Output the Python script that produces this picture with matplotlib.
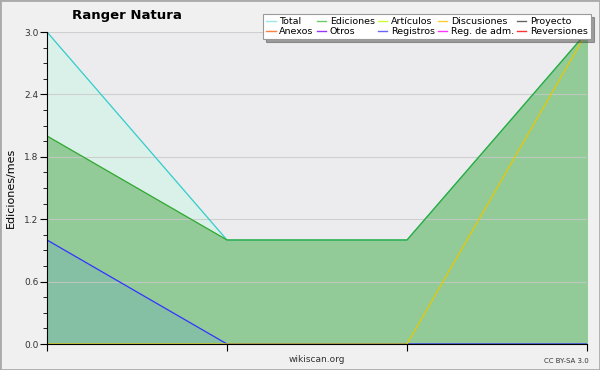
import matplotlib.pyplot as plt
from matplotlib.lines import Line2D
from matplotlib.patches import Rectangle

# monthly edits
months = [0, 1, 2, 3]
total = [3, 1, 1, 3]
ediciones = [2, 1, 1, 3]
registros = [1, 0, 0, 0]
discusiones = [0, 0, 0, 3]

legend_names = ['Total', 'Ediciones', 'Artículos', 'Discusiones', 'Proyecto',
                'Anexos', 'Otros', 'Registros', 'Reg. de adm.', 'Reversiones']
legend_colors = ['#99e6e6', '#66cc66', '#ccff33', '#ffcc33', '#666666',
                 '#ff7f3f', '#9933ff', '#6666ff', '#ff33ff', '#ff3333']

fig = plt.figure(figsize=(6, 3.7), dpi=100, facecolor='#f0f0f0')
fig.patches.append(Rectangle((0, 0), 1, 1, transform=fig.transFigure,
                             fill=False, edgecolor='#aaaaaa', lw=2))
ax = fig.add_axes([47 / 600, 26 / 370, 540 / 600, 312 / 370])
ax.set_facecolor('#ececee')

ax.fill_between(months, total, color='#daf1e9')
ax.plot(months, total, color='#33cccc', lw=0.9)
ax.fill_between(months, ediciones, color='#93cb98')
ax.plot(months, ediciones, color='#33aa33', lw=0.9)
ax.fill_between(months, registros, color='#86c0a4')
ax.plot(months, registros, color='#3333ff', lw=0.9)
ax.plot(months, discusiones, color='#e6c800', lw=0.9)

ax.set_xlim(0, 3)
ax.set_ylim(0, 3)
ax.set_xticks(months)
ax.set_xticklabels([])
ax.set_yticks([0, 0.6, 1.2, 1.8, 2.4, 3.0])
ax.set_yticklabels(['0.0', '0.6', '1.2', '1.8', '2.4', '3.0'], fontsize=6.5, color='#333333')
ax.set_yticks([i * 0.15 for i in range(21)], minor=True)
ax.tick_params(axis='y', which='major', length=5, pad=1)
ax.tick_params(axis='y', which='minor', length=3)
ax.tick_params(axis='x', length=5)
ax.grid(axis='y', color='#c8c8c8', lw=0.8, alpha=0.8)
for s in ['top', 'right']:
    ax.spines[s].set_visible(False)
ax.set_ylabel('Ediciones/mes', fontsize=8, labelpad=6)

fig.text(127 / 600, 1 - 15 / 370, 'Ranger Natura', fontsize=9.5, fontweight='bold',
         ha='center', va='center')
fig.text(317 / 600, 1 - 360 / 370, 'wikiscan.org', fontsize=6.5, ha='center', va='center',
         color='#333333')
fig.text(589 / 600, 1 - 361 / 370, 'CC BY-SA 3.0', fontsize=5, ha='right', va='center',
         color='#333333')

# legend filled column by column, so reorder for row layout
order = [0, 5, 1, 6, 2, 7, 3, 8, 4, 9]
handles = [Line2D([], [], color=legend_colors[i], lw=1) for i in order]
labels = [legend_names[i] for i in order]
leg = fig.legend(handles, labels, ncol=5, loc='upper right', bbox_to_anchor=(596 / 600, 1 - 9 / 370),
                 fontsize=6.8, frameon=True, fancybox=False, shadow=True, handlelength=1.0,
                 handletextpad=0.4, columnspacing=0.3, labelspacing=0.1, borderpad=0.35)
leg.get_frame().set_edgecolor('#999999')
leg.get_frame().set_linewidth(0.8)

fig.savefig('out.png', dpi=100, facecolor=fig.get_facecolor())
